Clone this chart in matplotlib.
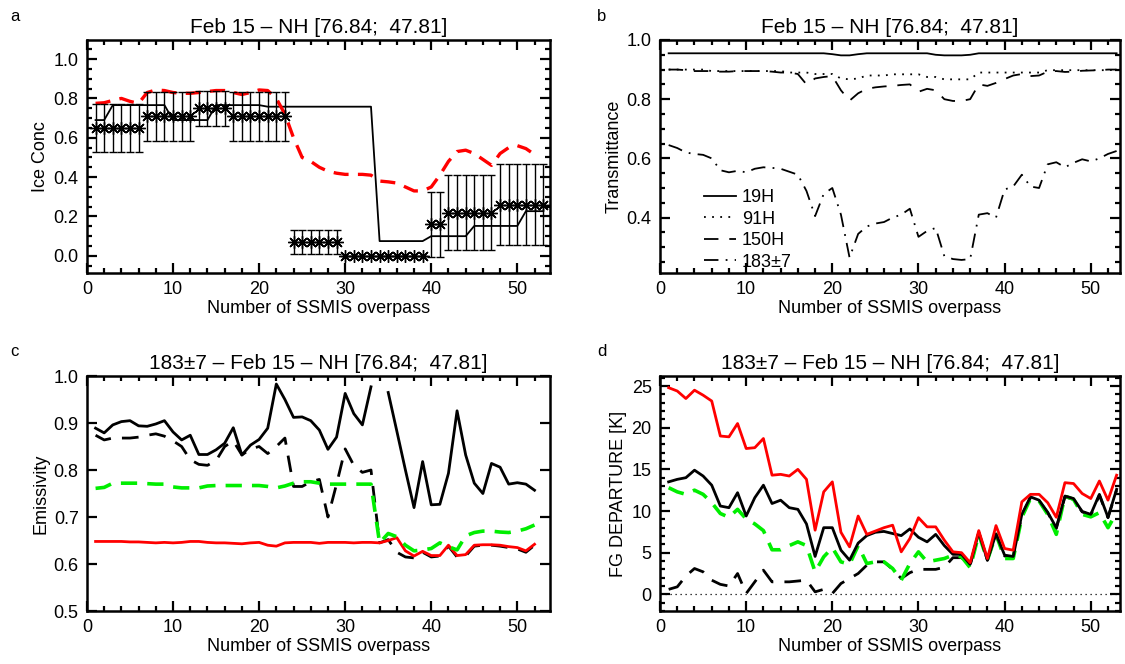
import numpy as np
import matplotlib
matplotlib.use('Agg')
import matplotlib.pyplot as plt
from matplotlib.ticker import MultipleLocator, FormatStrFormatter

plt.rcParams['font.family'] = ['Liberation Sans', 'DejaVu Sans']

# ---- panel a: ice concentration ----
obs_x = np.arange(1, 54)
obs_conc = [0.65, 0.65, 0.65, 0.65, 0.65, 0.65,
            0.71, 0.71, 0.71, 0.71, 0.71, 0.71,
            0.75, 0.75, 0.75, 0.75,
            0.71, 0.71, 0.71, 0.71, 0.71, 0.71, 0.71,
            0.07, 0.07, 0.07, 0.07, 0.07, 0.07,
            0.0, 0.0, 0.0, 0.0, 0.0, 0.0, 0.0, 0.0, 0.0, 0.0,
            0.16, 0.16,
            0.22, 0.22, 0.22, 0.22, 0.22, 0.22,
            0.26, 0.26, 0.26, 0.26, 0.26, 0.26]
obs_err = [0.12, 0.12, 0.12, 0.12, 0.12, 0.12,
           0.125, 0.125, 0.125, 0.125, 0.125, 0.125,
           0.09, 0.09, 0.09, 0.09,
           0.125, 0.125, 0.125, 0.125, 0.125, 0.125, 0.125,
           0.063, 0.063, 0.063, 0.063, 0.063, 0.063,
           0.0, 0.0, 0.0, 0.0, 0.0, 0.0, 0.0, 0.0, 0.0, 0.0,
           0.165, 0.165,
           0.19, 0.19, 0.19, 0.19, 0.19, 0.19,
           0.205, 0.205, 0.205, 0.205, 0.205, 0.205]
step_conc = [0.69, 0.69,
             0.766, 0.766, 0.766, 0.766, 0.766, 0.766, 0.766,
             0.69, 0.69, 0.69, 0.69, 0.69,
             0.766, 0.766, 0.766, 0.766, 0.766, 0.766,
             0.758, 0.758, 0.758, 0.758, 0.758, 0.758, 0.758, 0.758, 0.758, 0.758, 0.758, 0.758, 0.758,
             0.075, 0.075, 0.075, 0.075, 0.075, 0.075,
             0.10, 0.10, 0.10, 0.10, 0.10,
             0.152, 0.152, 0.152, 0.152, 0.152, 0.152,
             0.227, 0.227, 0.227]
red_x = np.arange(1, 53)
red_conc = [0.775, 0.778, 0.79, 0.80, 0.785, 0.775, 0.83, 0.843, 0.84, 0.83,
            0.826, 0.826, 0.83, 0.835, 0.84, 0.84, 0.83, 0.82, 0.83, 0.843,
            0.84, 0.80, 0.72, 0.60, 0.50, 0.48, 0.45, 0.43, 0.42, 0.414,
            0.414, 0.414, 0.41, 0.38, 0.376, 0.37, 0.35, 0.33, 0.33, 0.35,
            0.41, 0.48, 0.53, 0.537, 0.52, 0.49, 0.46, 0.52, 0.55, 0.56,
            0.545, 0.515]

# ---- panel b: transmittance ----
tr_x = np.arange(1, 54)
tr_19h = [0.955, 0.955, 0.955, 0.955, 0.955, 0.955, 0.955, 0.955, 0.955, 0.955,
          0.955, 0.955, 0.955, 0.955, 0.955, 0.955, 0.955, 0.955, 0.955, 0.952,
          0.948, 0.948, 0.952, 0.955, 0.955, 0.955, 0.955, 0.955, 0.955, 0.955,
          0.955, 0.95, 0.948, 0.948, 0.948, 0.95, 0.955, 0.955, 0.955, 0.955,
          0.955, 0.955, 0.955, 0.955, 0.955, 0.955, 0.955, 0.955, 0.955, 0.955,
          0.955, 0.955, 0.955]
tr_91h = [0.90, 0.90, 0.90, 0.90, 0.90, 0.895, 0.895, 0.895, 0.895, 0.895,
          0.895, 0.895, 0.895, 0.895, 0.89, 0.89, 0.89, 0.885, 0.885, 0.885,
          0.87, 0.867, 0.87, 0.88, 0.88, 0.88, 0.884, 0.884, 0.884, 0.884,
          0.875, 0.875, 0.867, 0.867, 0.867, 0.867, 0.89, 0.89, 0.89, 0.89,
          0.89, 0.89, 0.89, 0.89, 0.898, 0.898, 0.898, 0.898, 0.898, 0.898,
          0.898, 0.898, 0.90]
tr_150h = [0.90, 0.90, 0.898, 0.895, 0.895, 0.895, 0.893, 0.893, 0.895, 0.895,
           0.895, 0.895, 0.893, 0.89, 0.89, 0.885, 0.85, 0.87, 0.875, 0.878,
           0.83, 0.795, 0.82, 0.835, 0.84, 0.843, 0.845, 0.848, 0.85, 0.825,
           0.835, 0.83, 0.80, 0.794, 0.794, 0.80, 0.85, 0.845, 0.855, 0.868,
           0.88, 0.885, 0.878, 0.88, 0.893, 0.895, 0.892, 0.893, 0.896, 0.897,
           0.898, 0.90, 0.90]
tr_183 = [0.645, 0.635, 0.62, 0.615, 0.612, 0.60, 0.56, 0.553, 0.558, 0.553,
          0.565, 0.57, 0.568, 0.565, 0.555, 0.545, 0.49, 0.405, 0.48, 0.50,
          0.41, 0.265, 0.345, 0.37, 0.38, 0.385, 0.40, 0.41, 0.43, 0.335,
          0.355, 0.365, 0.27, 0.26, 0.257, 0.26, 0.41, 0.415, 0.40, 0.495,
          0.505, 0.545, 0.505, 0.50, 0.58, 0.587, 0.57, 0.585, 0.597, 0.59,
          0.60, 0.615, 0.625]
tr_labels = ['19H', '91H', '150H', '183\u00b17']

# ---- panel c: emissivity ----
em_x = np.arange(1, 53)
em_black = [0.889, 0.879, 0.896, 0.903, 0.905, 0.894, 0.893, 0.898, 0.905, 0.881,
            0.864, 0.874, 0.833, 0.833, 0.843, 0.857, 0.89, 0.832, 0.853, 0.865,
            0.889, 0.983, 0.95, 0.912, 0.913, 0.905, 0.885, 0.844, 0.87, 0.963,
            0.92, 0.896, 0.977, np.nan, 0.965, 0.883, 0.80, 0.72, 0.818, 0.726,
            0.727, 0.793, 0.926, 0.832, 0.772, 0.75, 0.814, 0.806, 0.77, 0.773,
            0.77, 0.757]
em_black_dash = [0.874, 0.864, 0.868, 0.868, 0.868, 0.87, 0.874, 0.877, 0.872, 0.862,
                 0.85, 0.822, 0.812, 0.81, 0.82, 0.85, 0.862, 0.832, 0.845, 0.85,
                 0.835, 0.85, 0.868, 0.765, 0.765, 0.775, 0.78, 0.70, 0.77, 0.845,
                 0.81, 0.795, 0.80, 0.645, 0.652, 0.625, 0.615, 0.613, 0.625, 0.615,
                 0.617, 0.638, 0.615, 0.617, 0.638, 0.64, 0.64, 0.638, 0.635, 0.632,
                 0.625, 0.64]
em_green = [0.761, 0.763, 0.772, 0.772, 0.772, 0.772, 0.771, 0.77, 0.77, 0.764,
            0.762, 0.762, 0.762, 0.766, 0.767, 0.767, 0.767, 0.767, 0.767, 0.767,
            0.765, 0.762, 0.766, 0.772, 0.775, 0.775, 0.772, 0.77, 0.77, 0.77,
            0.77, 0.77, 0.77, 0.645, 0.665, 0.658, 0.64, 0.628, 0.63, 0.633,
            0.645, 0.637, 0.63, 0.66, 0.667, 0.67, 0.67, 0.668, 0.667, 0.67,
            0.675, 0.683]
em_red = [0.648, 0.648, 0.648, 0.648, 0.647, 0.647, 0.646, 0.645, 0.646, 0.645,
          0.646, 0.648, 0.648, 0.646, 0.645, 0.645, 0.644, 0.643, 0.645, 0.646,
          0.64, 0.638, 0.645, 0.646, 0.646, 0.646, 0.644, 0.646, 0.646, 0.646,
          0.645, 0.646, 0.646, 0.645, 0.650, 0.656, 0.628, 0.617, 0.627, 0.618,
          0.618, 0.64, 0.618, 0.62, 0.64, 0.641, 0.641, 0.64, 0.637, 0.635,
          0.628, 0.642]

# ---- panel d: first-guess departure ----
fg_x = np.arange(1, 54)
fg_red = [24.8, 24.4, 23.5, 24.5, 23.9, 23.2, 19.0, 18.9, 20.5, 17.5,
          17.6, 18.7, 14.3, 14.4, 14.2, 15.0, 13.8, 7.7, 12.3, 13.5,
          7.45, 5.7, 9.4, 7.2, 7.6, 8.0, 8.3, 5.1, 6.7, 9.2,
          8.1, 8.1, 6.5, 5.1, 5.0, 3.8, 7.65, 4.3, 8.25, 5.5,
          5.3, 11.1, 12.0, 12.0, 11.0, 9.25, 13.4, 13.3, 12.1, 11.5,
          13.6, 11.3, 14.3]
fg_black = [13.5, 13.8, 14.0, 14.9, 14.2, 13.1, 10.6, 10.4, 12.2, 9.4,
            11.6, 13.1, 10.9, 11.3, 10.4, 10.2, 8.45, 4.55, 8.0, 8.0,
            5.3, 4.1, 6.15, 7.05, 7.45, 7.55, 7.3, 7.05, 7.85, 6.85,
            6.3, 7.2, 5.85, 4.8, 4.8, 3.6, 7.45, 4.1, 7.25, 4.7,
            4.55, 9.6, 11.7, 11.3, 9.85, 8.0, 11.8, 11.5, 9.95, 9.6,
            12.0, 9.25, 12.6]
fg_green = [12.8, 12.3, 12.0, 12.5, 12.0, 11.0, 9.7, 9.25, 10.2, 9.05,
            8.45, 7.65, 5.35, 5.35, 5.85, 6.3, 5.85, 2.7, 4.5, 5.6,
            3.9, 3.6, 5.85, 3.7, 3.9, 3.9, 3.1, 1.7, 3.7, 5.1,
            3.9, 4.1, 4.3, 4.7, 4.5, 3.2, 7.2, 4.1, 7.2, 4.3,
            4.3, 9.25, 11.5, 11.2, 9.6, 7.2, 11.8, 11.4, 9.6, 9.3,
            9.8, 8.0, 9.8]
fg_black_dash = [0.6, 0.9, 2.2, 3.1, 2.7, 1.7, 1.2, 1.0, 2.5, 0.1,
                 1.5, 2.9, 1.5, 1.5, 1.5, 1.6, 1.7, 0.3, 0.6, 0.1,
                 1.3, 1.9, 2.5, 3.5, 3.9, 3.9, 3.0, 1.9, 2.6, 3.0,
                 3.0, 3.0, 3.25, 4.4, 4.4, 3.5, 7.4, 4.1, 7.2, 4.6,
                 4.5, 9.5, 11.6, 11.2, 9.8, 7.9, 11.7, 11.4, 9.9, 9.5,
                 11.9, 9.2, 12.5]

title_main = 'Feb 15 \u2013 NH [76.84;  47.81]'
title_183 = '183\u00b17 \u2013 ' + title_main
xlabel = 'Number of SSMIS overpass'


def idl_axes(ax, xmax, ymaj, ymin, fmt):
    ax.set_xlim(0, xmax)
    ax.xaxis.set_major_locator(MultipleLocator(10))
    ax.xaxis.set_minor_locator(MultipleLocator(2))
    ax.yaxis.set_major_locator(MultipleLocator(ymaj))
    if ymin:
        ax.yaxis.set_minor_locator(MultipleLocator(ymin))
    ax.yaxis.set_major_formatter(FormatStrFormatter(fmt))
    ax.tick_params(which='both', direction='in', top=True, right=True,
                   labelsize=13, width=1.6)
    ax.tick_params(which='major', length=7, pad=6)
    ax.tick_params(which='minor', length=3.5)
    for s in ax.spines.values():
        s.set_linewidth(1.8)
    ax.set_xlabel(xlabel, fontsize=13, labelpad=1)


fig = plt.figure(figsize=(11.25, 6.64), dpi=100)
ax_a = fig.add_axes([0.0773, 0.5889, 0.4116, 0.3509])
ax_b = fig.add_axes([0.5867, 0.5889, 0.4089, 0.3509])
ax_c = fig.add_axes([0.0773, 0.0798, 0.4116, 0.3539])
ax_d = fig.add_axes([0.5867, 0.0798, 0.4089, 0.3539])

# a
ax_a.plot(obs_x, step_conc, color='black', lw=1.3)
ax_a.plot(red_x, red_conc, color='red', lw=2.4, dashes=(4.5, 2.8))
ax_a.errorbar(obs_x, obs_conc, yerr=obs_err, fmt='none', ecolor='black',
              elinewidth=1.0, capsize=3, capthick=1.0)
ax_a.plot(obs_x, obs_conc, ls='none', marker=(8, 2, 0), ms=9, mew=1.0, color='black')
idl_axes(ax_a, 53.8, 0.2, 0.05, '%.1f')
ax_a.set_ylim(-0.087, 1.097)
ax_a.set_ylabel('Ice Conc', fontsize=13, labelpad=3)
ax_a.set_title(title_main, fontsize=15, pad=5)

# b
ax_b.plot(tr_x, tr_19h, color='black', lw=1.3, label=tr_labels[0])
ax_b.plot(tr_x, tr_91h, color='black', lw=1.3, dashes=(1, 3.5), label=tr_labels[1])
ax_b.plot(tr_x, tr_150h, color='black', lw=1.3, dashes=(8, 6), label=tr_labels[2])
ax_b.plot(tr_x, tr_183, color='black', lw=1.3, dashes=(8, 4, 1, 4), label=tr_labels[3])
idl_axes(ax_b, 53.4, 0.2, 0.05, '%.1f')
ax_b.set_ylim(0.213, 1.0)
ax_b.set_ylabel('Transmittance', fontsize=13, labelpad=3)
ax_b.set_title(title_main, fontsize=15, pad=5)
ax_b.legend(loc='lower left', bbox_to_anchor=(0.06, -0.06), frameon=False,
            fontsize=13, handlelength=1.8, handletextpad=0.3, labelspacing=0.25)

# c
ax_c.plot(em_x, em_black, color='black', lw=2.0)
ax_c.plot(em_x, em_black_dash, color='black', lw=2.0, dashes=(6, 4))
ax_c.plot(em_x, em_red, color='red', lw=2.0)
ax_c.plot(em_x, em_green, color='#00ee00', lw=2.6, dashes=(4.5, 2.8))
idl_axes(ax_c, 53.8, 0.1, None, '%.1f')
ax_c.set_ylim(0.5, 1.0)
ax_c.set_ylabel('Emissivity', fontsize=13, labelpad=3)
ax_c.set_title(title_183, fontsize=15, pad=5)

# d
ax_d.axhline(0, color='black', lw=0.9, dashes=(1, 3))
ax_d.plot(fg_x, fg_black_dash, color='black', lw=2.0, dashes=(6, 4))
ax_d.plot(fg_x, fg_green, color='#00ee00', lw=2.6, dashes=(4.5, 2.8))
ax_d.plot(fg_x, fg_black, color='black', lw=2.0)
ax_d.plot(fg_x, fg_red, color='red', lw=2.0)
idl_axes(ax_d, 53.4, 5, 1, '%d')
ax_d.set_ylim(-2, 26.2)
ax_d.set_ylabel('FG DEPARTURE [K]', fontsize=13, labelpad=3)
ax_d.set_title(title_183, fontsize=15, pad=5)

for lab, xx, yy in [('a', 0.009, 0.968), ('b', 0.531, 0.968),
                    ('c', 0.009, 0.464), ('d', 0.531, 0.464)]:
    fig.text(xx, yy, lab, fontsize=12)

fig.savefig('out.png', dpi=100)
